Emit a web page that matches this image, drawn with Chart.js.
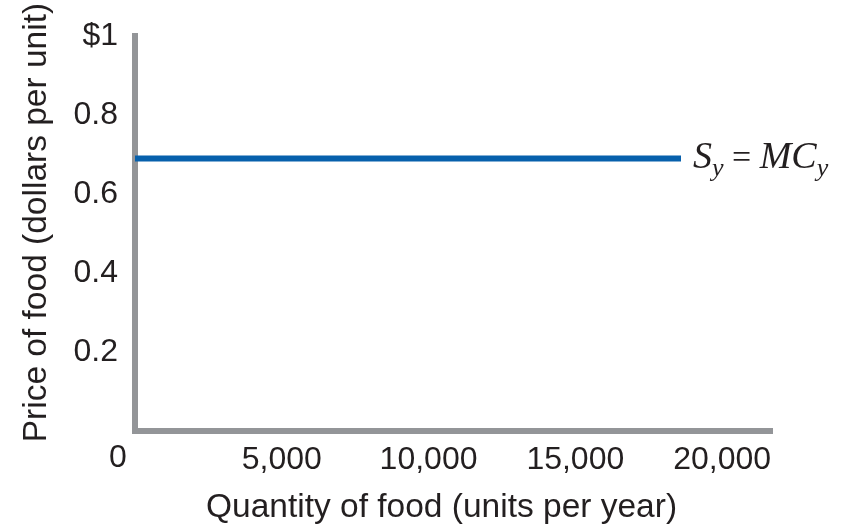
<!DOCTYPE html>
<html>
<head>
<meta charset="utf-8">
<script src="https://cdn.jsdelivr.net/npm/chart.js@4"></script>
<style>
html,body{margin:0;padding:0;background:#fff;}
#wrap{width:850px;height:528px;}
</style>
</head>
<body>
<div id="wrap"><canvas id="c" width="850" height="528"></canvas></div>
<script>
// Data
const quantity = [0, 18600];          // units per year
const price = [0.69, 0.69];           // dollars per unit
const xTickValues = [5000, 10000, 15000, 20000];
const yTickValues = [0.2, 0.4, 0.6, 0.8, 1];
const xMax = 21700;
const yMax = 1;
const xTitle = 'Quantity of food (units per year)';
const yTitle = 'Price of food (dollars per unit)';
const curveLabel = ['S', 'y', ' = ', 'MC', 'y'];

const textColor = '#231f20';
const axisColor = '#939598';
const lineColor = '#0760ac';
const sans = '"Liberation Sans", Arial, sans-serif';
const serif = '"Liberation Serif", "Times New Roman", serif';

const labelPlugin = {
  id: 'labels',
  afterDraw(chart) {
    const ctx = chart.ctx;
    const xs = chart.scales.x, ys = chart.scales.y;
    const area = chart.chartArea;
    ctx.save();
    ctx.fillStyle = textColor;
    // zero at the origin corner
    ctx.font = '32px ' + sans;
    ctx.textAlign = 'center';
    ctx.textBaseline = 'middle';
    ctx.fillText('0', xs.getPixelForValue(0) - 17, ys.getPixelForValue(0) + 27);
    // axis titles
    ctx.font = '33.5px ' + sans;
    ctx.fillText(xTitle, (area.left + area.right) / 2 - 12, 508);
    ctx.save();
    ctx.translate(37, (area.top + area.bottom) / 2 - 11);
    ctx.rotate(-Math.PI / 2);
    ctx.fillText(yTitle, 0, 0);
    ctx.restore();
    // curve label
    let x = xs.getPixelForValue(quantity[quantity.length - 1]) + 12;
    const base = ys.getPixelForValue(price[price.length - 1]) + 9;
    ctx.textAlign = 'left';
    ctx.textBaseline = 'alphabetic';
    const big = 'italic 38px ' + serif;
    const small = 'italic 26px ' + serif;
    const upright = '34px ' + serif;
    const parts = [
      [curveLabel[0], big, 0],
      [curveLabel[1], small, 8],
      [curveLabel[2], upright, 0],
      [curveLabel[3], big, 0],
      [curveLabel[4], small, 8]
    ];
    for (const [t, f, dy] of parts) {
      ctx.font = f;
      ctx.fillText(t, x, base + dy);
      x += ctx.measureText(t).width;
    }
    ctx.restore();
  }
};

new Chart(document.getElementById('c'), {
  type: 'line',
  data: {
    datasets: [{
      data: quantity.map((q, i) => ({x: q, y: price[i]})),
      borderColor: lineColor,
      borderWidth: 6,
      pointRadius: 0,
      fill: false,
      tension: 0
    }]
  },
  options: {
    responsive: false,
    animation: false,
    devicePixelRatio: 1,
    layout: {padding: {top: 35, right: 78, left: 0, bottom: 0}},
    plugins: {legend: {display: false}, tooltip: {enabled: false}},
    scales: {
      x: {
        type: 'linear',
        min: 0,
        max: xMax,
        grid: {display: false, drawTicks: false},
        border: {display: true, color: axisColor, width: 6},
        afterBuildTicks: s => { s.ticks = xTickValues.map(v => ({value: v})); },
        afterFit: s => { s.height = 97; },
        ticks: {
          color: textColor,
          font: {family: sans, size: 32},
          padding: 10,
          maxRotation: 0,
          autoSkip: false,
          callback: v => v.toLocaleString('en-US')
        },
        title: {display: false}
      },
      y: {
        type: 'linear',
        min: 0,
        max: yMax,
        grid: {display: false, drawTicks: false},
        border: {display: true, color: axisColor, width: 6},
        afterBuildTicks: s => { s.ticks = yTickValues.map(v => ({value: v})); },
        afterFit: s => { s.width = 135; },
        ticks: {
          color: textColor,
          font: {family: sans, size: 32},
          padding: 17,
          callback: v => v === 1 ? '$1' : v.toFixed(1)
        },
        title: {display: false}
      }
    }
  },
  plugins: [labelPlugin]
});
</script>
</body>
</html>
